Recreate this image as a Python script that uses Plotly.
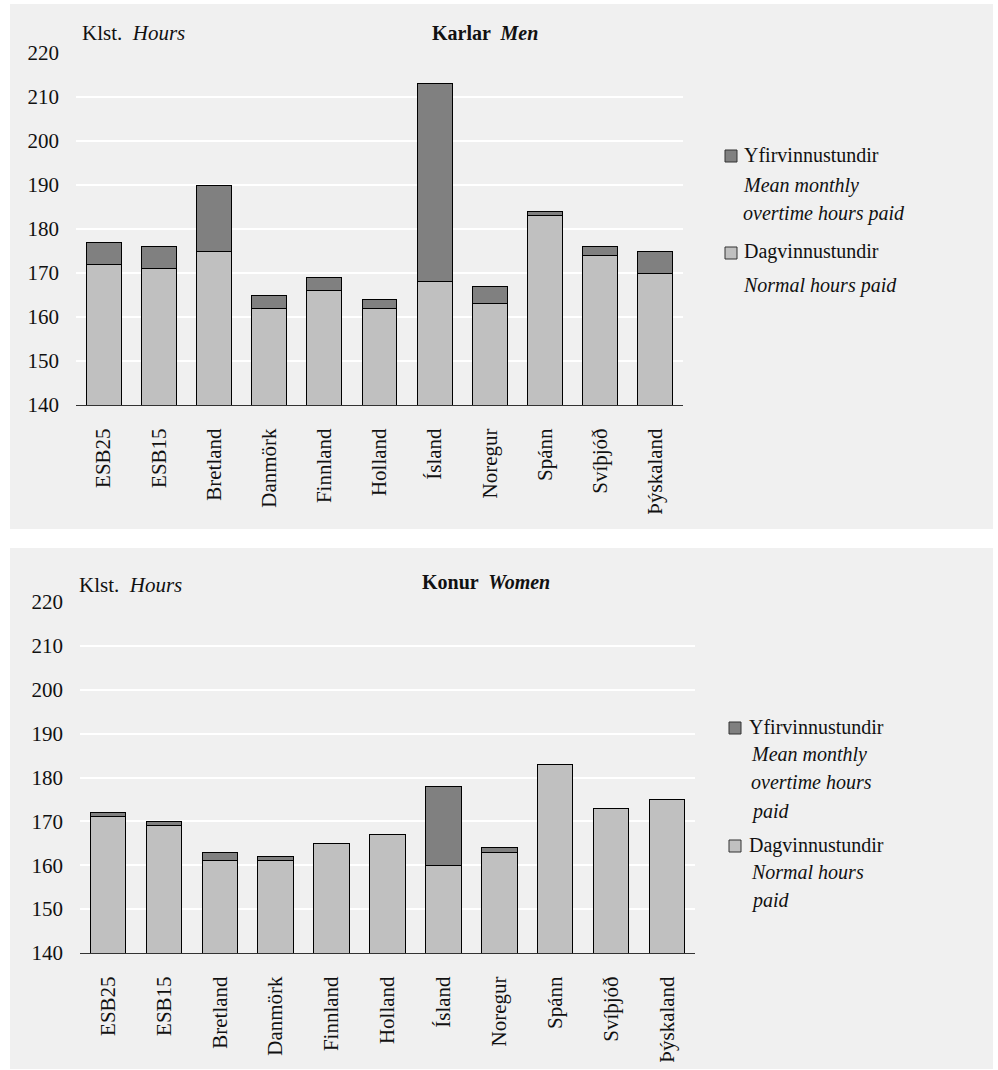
import plotly.graph_objects as go

categories = ["ESB25", "ESB15", "Bretland", "Danmörk", "Finnland", "Holland",
              "Ísland", "Noregur", "Spánn", "Svíþjóð", "Þýskaland"]
men_normal = [172, 171, 175, 162, 166, 162, 168, 163, 183, 174, 170]
men_overtime = [5, 5, 15, 3, 3, 2, 45, 4, 1, 2, 5]
women_normal = [171, 169, 161, 161, 165, 167, 160, 163, 183, 173, 175]
women_overtime = [1, 1, 2, 1, 0, 0, 18, 1, 0, 0, 0]
y_ticks = [140, 150, 160, 170, 180, 190, 200, 210, 220]

W, H = 998, 1070
C_NORMAL = "#c0c0c0"
C_OVER = "#808080"
PANEL = "#f0f0f0"
PLOT_BG = "#dcdcdc"
FONT = "Liberation Serif"
TXT = "#111111"


def px(x):
    return x / W


def py(y):
    return 1 - y / H


fig = go.Figure()

for normal, over, xa, ya in [(men_normal, men_overtime, "x", "y"),
                             (women_normal, women_overtime, "x2", "y2")]:
    fig.add_trace(go.Bar(x=categories, y=normal, xaxis=xa, yaxis=ya,
                         marker=dict(color=C_NORMAL, line=dict(color="#000000", width=1)),
                         showlegend=False, name="Dagvinnustundir"))
    fig.add_trace(go.Bar(x=categories, y=over, xaxis=xa, yaxis=ya,
                         marker=dict(color=C_OVER, line=dict(color="#000000", width=1)),
                         showlegend=False, name="Yfirvinnustundir"))

axis_font = dict(family=FONT, size=21, color=TXT)

common_x = dict(tickangle=-90, tickfont=axis_font, showgrid=False, showline=True,
                linecolor="#333333", linewidth=1, ticks="", ticklabelstandoff=14,
                fixedrange=True, automargin=False)
common_y = dict(range=[140, 220], tickvals=y_ticks, tickfont=axis_font, showgrid=True,
                gridcolor="#ffffff", gridwidth=2, showline=False, zeroline=False,
                ticks="", ticklabelstandoff=16, fixedrange=True, automargin=False)

fig.update_layout(
    width=W, height=H,
    margin=dict(l=0, r=0, t=0, b=0, pad=0, autoexpand=False),
    paper_bgcolor="#ffffff",
    plot_bgcolor=PLOT_BG,
    barmode="stack",
    bargap=0.366,
    showlegend=False,
    xaxis=dict(domain=[px(76), px(683)], anchor="y", **common_x),
    yaxis=dict(domain=[py(405), py(53)], anchor="x", **common_y),
    xaxis2=dict(domain=[px(80), px(695)], anchor="y2", **common_x),
    yaxis2=dict(domain=[py(953), py(602)], anchor="x2", **common_y),
)

shapes = [
    dict(type="rect", xref="paper", yref="paper", x0=px(10), x1=px(993), y0=py(529), y1=py(4),
         fillcolor=PANEL, line=dict(width=0), layer="below"),
    dict(type="rect", xref="paper", yref="paper", x0=px(10), x1=px(993), y0=py(1069), y1=py(548),
         fillcolor=PANEL, line=dict(width=0), layer="below"),
]

annotations = []


def text(x, y, s, size=20, anchor="left"):
    annotations.append(dict(xref="paper", yref="paper", x=px(x), y=py(y), text=s,
                            showarrow=False, xanchor=anchor, yanchor="middle",
                            font=dict(family=FONT, size=size, color=TXT)))


def square(x, y, color):
    shapes.append(dict(type="rect", xref="paper", yref="paper", x0=px(x), x1=px(x + 12),
                       y0=py(y + 6), y1=py(y - 6), fillcolor=color,
                       line=dict(color="#333333", width=1)))


# Top panel texts
text(80, 33, "Klst.  <i>Hours</i>", 21)
text(430, 33, "<b>Karlar  <i>Men</i></b>", 20)
square(725, 156, C_OVER)
text(742, 155, "Yfirvinnustundir", 20)
text(741, 186, "<i>Mean monthly</i>", 20)
text(741, 214, "<i>overtime hours paid</i>", 20)
square(725, 253, C_NORMAL)
text(742, 252, "Dagvinnustundir", 20)
text(741, 285, "<i>Normal hours paid</i>", 20)

# Bottom panel texts
text(77, 585, "Klst.  <i>Hours</i>", 21)
text(420, 582, "<b>Konur  <i>Women</i></b>", 20)
square(729, 728, C_OVER)
text(747, 727, "Yfirvinnustundir", 20)
text(749, 754, "<i>Mean monthly</i>", 20)
text(749, 782, "<i>overtime hours</i>", 20)
text(749, 811, "<i>paid</i>", 20)
square(729, 846, C_NORMAL)
text(747, 845, "Dagvinnustundir", 20)
text(749, 872, "<i>Normal hours</i>", 20)
text(749, 900, "<i>paid</i>", 20)

fig.update_layout(shapes=shapes, annotations=annotations)

fig.write_html("out.html", config={"displayModeBar": False},
               post_script="document.body.style.margin='0';document.body.style.overflow='hidden';")
